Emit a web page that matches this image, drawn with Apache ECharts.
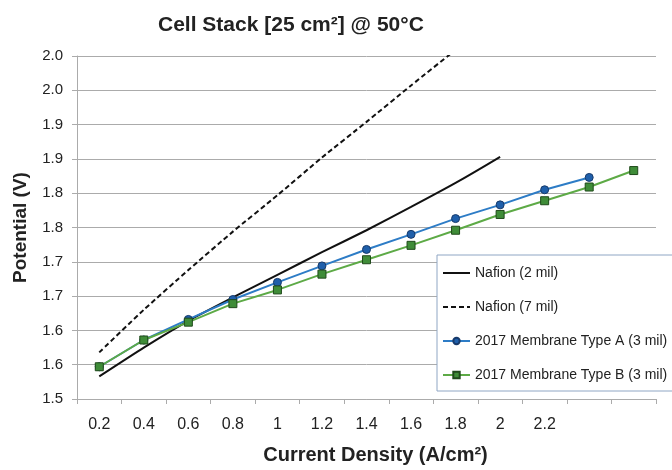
<!DOCTYPE html>
<html>
<head>
<meta charset="utf-8">
<script src="https://cdn.jsdelivr.net/npm/echarts@6/dist/echarts.min.js"></script>
<style>
  html, body { margin: 0; padding: 0; background: #fff; }
  #chart { width: 672px; height: 470px; }
</style>
</head>
<body>
<div id="chart"></div>
<script>
// current density categories (last two have no label in the original)
const densities = ['0.2', '0.4', '0.6', '0.8', '1', '1.2', '1.4', '1.6', '1.8', '2', '2.2', '', '']
const yTickLabels = ['1.5', '1.6', '1.6', '1.7', '1.7', '1.8', '1.8', '1.9', '1.9', '2.0', '2.0']

const nafion2 = [1.533, 1.575, 1.614, 1.648, 1.681, 1.714, 1.746, 1.780, 1.815, 1.853]
const nafion7 = [1.568, 1.630, 1.688, 1.744, 1.797, 1.852, 1.904, 1.957, 2.009]
const typeA = [1.547, 1.586, 1.616, 1.645, 1.670, 1.694, 1.718, 1.740, 1.763, 1.783, 1.805, 1.823]
const typeB = [1.547, 1.586, 1.612, 1.639, 1.659, 1.682, 1.703, 1.724, 1.746, 1.769, 1.789, 1.809, 1.833]

const font = '"Liberation Sans", Arial, sans-serif'
const gridColor = '#ABABAB'

const chart = echarts.init(document.getElementById('chart'))

const option = {
  animation: false,
  backgroundColor: '#fff',
  title: {
    text: 'Cell Stack [25 cm²] @ 50°C',
    left: 153,
    top: 10,
    textStyle: { fontFamily: font, fontSize: 21, fontWeight: 'bold', color: '#222' }
  },
  grid: { left: 77, right: 16, top: 56, bottom: 66 },
  legend: {
    orient: 'vertical',
    left: 437,
    top: 255,
    padding: [11, 8, 9, 5],
    itemWidth: 27,
    itemHeight: 8,
    itemGap: 20,
    backgroundColor: '#fff',
    borderColor: '#8FA6C4',
    borderWidth: 1,
    borderRadius: 0,
    textStyle: { fontFamily: font, fontSize: 14, color: '#222' },
    data: [
      { name: 'Nafion (2 mil)', itemStyle: { opacity: 0 } },
      { name: 'Nafion (7 mil)', itemStyle: { opacity: 0 } },
      '2017 Membrane Type A (3 mil)',
      '2017 Membrane Type B (3 mil)'
    ]
  },
  xAxis: {
    type: 'category',
    data: densities,
    boundaryGap: true,
    name: 'Current Density (A/cm²)',
    nameLocation: 'middle',
    nameGap: 46,
    nameTextStyle: { fontFamily: font, fontSize: 20, fontWeight: 'bold', color: '#222', padding: [0, 0, 0, 18] },
    axisLine: { lineStyle: { color: gridColor, width: 1 } },
    axisTick: { show: true, length: 5, lineStyle: { color: gridColor } },
    axisLabel: { interval: 0, margin: 18, fontFamily: font, fontSize: 16, color: '#222' },
    splitLine: { show: false }
  },
  yAxis: {
    type: 'value',
    min: 1.5,
    max: 2.0,
    interval: 0.05,
    name: 'Potential (V)',
    nameLocation: 'middle',
    nameRotate: 90,
    nameGap: 47,
    nameTextStyle: { fontFamily: font, fontSize: 19, fontWeight: 'bold', color: '#222' },
    axisLine: { show: true, lineStyle: { color: gridColor, width: 1 } },
    axisTick: { show: true, length: 5, lineStyle: { color: gridColor } },
    axisLabel: {
      margin: 14,
      fontFamily: font,
      fontSize: 15,
      color: '#222',
      formatter: v => yTickLabels[Math.round((v - 1.5) / 0.05)]
    },
    splitLine: { show: true, lineStyle: { color: gridColor, width: 1 } }
  },
  series: [
    {
      name: 'Nafion (2 mil)',
      type: 'line',
      data: nafion2,
      symbol: 'none',
      smooth: 0.2,
      lineStyle: { color: '#111', width: 2 },
      itemStyle: { color: '#111' }
    },
    {
      name: 'Nafion (7 mil)',
      type: 'line',
      data: nafion7,
      symbol: 'none',
      smooth: 0.2,
      clip: true,
      lineStyle: { color: '#111', width: 2, type: [5, 3] },
      itemStyle: { color: '#111' }
    },
    {
      name: '2017 Membrane Type A (3 mil)',
      type: 'line',
      data: typeA,
      symbol: 'circle',
      symbolSize: 8,
      lineStyle: { color: '#2D7CC6', width: 2 },
      itemStyle: { color: '#1F5FAA', borderColor: '#173A6B', borderWidth: 1 }
    },
    {
      name: '2017 Membrane Type B (3 mil)',
      type: 'line',
      data: typeB,
      symbol: 'rect',
      symbolSize: 8,
      lineStyle: { color: '#5DAA46', width: 2 },
      itemStyle: { color: '#3F8C38', borderColor: '#1F4A1A', borderWidth: 1 }
    }
  ]
}

chart.setOption(option)
</script>
</body>
</html>
